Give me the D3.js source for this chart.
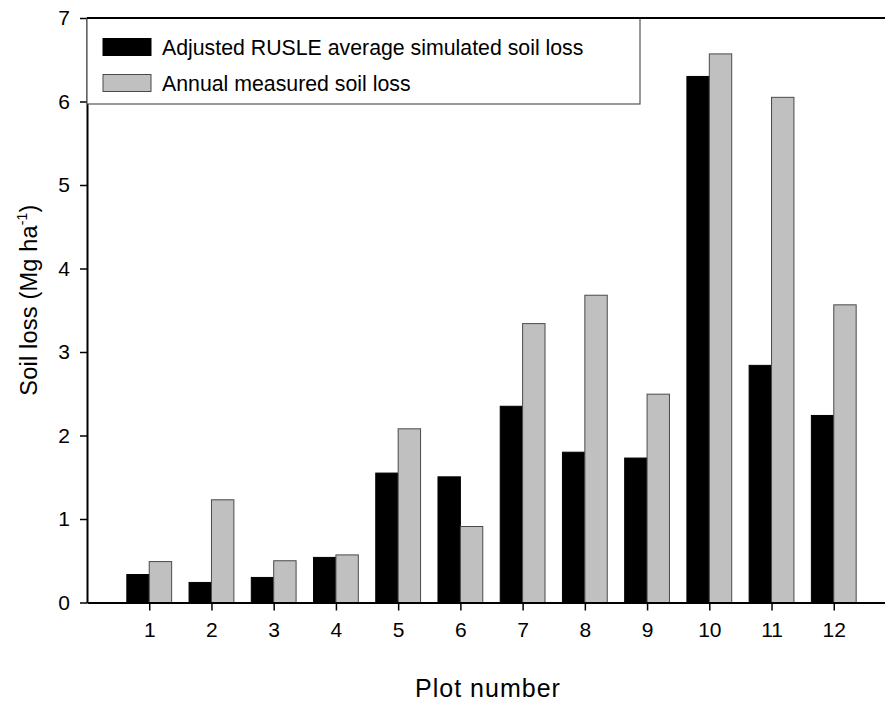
<!DOCTYPE html>
<html>
<head>
<meta charset="utf-8">
<script src="https://cdn.jsdelivr.net/npm/d3@7"></script>
<style>
  html, body { margin: 0; padding: 0; background: #fff; }
  svg { display: block; font-family: Arial, "Liberation Sans", sans-serif; }
</style>
</head>
<body>
<svg id="chart" width="885" height="702"></svg>
<script>
// Plot numbers and soil loss per plot (Mg ha-1)
const plots = [1, 2, 3, 4, 5, 6, 7, 8, 9, 10, 11, 12];
const simulated = [0.335, 0.24, 0.30, 0.54, 1.55, 1.505, 2.35, 1.80, 1.73, 6.30, 2.84, 2.24];
const measured = [0.49, 1.23, 0.50, 0.57, 2.08, 0.91, 3.34, 3.68, 2.495, 6.57, 6.05, 3.565];
const yTicks = [0, 1, 2, 3, 4, 5, 6, 7];
const seriesNames = ["Adjusted RUSLE average simulated soil loss", "Annual measured soil loss"];

(function () {
  const svg = d3.select("#chart");
  const plotLeft = 87, plotTop = 18, plotBottom = 602.5, plotRight = 896;

  const x = d3.scaleLinear().domain([0, 13]).range([plotLeft, plotRight]);
  const y = d3.scaleLinear().domain([0, 7]).range([plotBottom, plotTop]);
  const bw = 0.36; // bar width in plot units

  // bars
  const g = svg.append("g");
  g.selectAll("rect.sim").data(plots).join("rect")
    .attr("class", "sim")
    .attr("x", (d) => x(d - bw))
    .attr("width", (d) => x(d) - x(d - bw))
    .attr("y", (d, i) => y(simulated[i]))
    .attr("height", (d, i) => plotBottom - y(simulated[i]))
    .attr("fill", "#000")
    .attr("stroke", "#000")
    .attr("stroke-width", 1);

  g.selectAll("rect.meas").data(plots).join("rect")
    .attr("class", "meas")
    .attr("x", (d) => x(d))
    .attr("width", (d) => x(d + bw) - x(d))
    .attr("y", (d, i) => y(measured[i]))
    .attr("height", (d, i) => plotBottom - y(measured[i]))
    .attr("fill", "#c0c0c0")
    .attr("stroke", "#4a4a4a")
    .attr("stroke-width", 1);

  // y axis
  const yAxis = svg.append("g")
    .attr("transform", `translate(${plotLeft},0)`)
    .call(d3.axisLeft(y).tickValues(yTicks).tickFormat(d3.format("d"))
      .tickSize(7).tickPadding(10).tickSizeOuter(0));
  yAxis.attr("font-size", 21).attr("font-family", "Arial, 'Liberation Sans', sans-serif");
  yAxis.select(".domain").attr("stroke", "#000").attr("stroke-width", 2);
  yAxis.selectAll(".tick line").attr("stroke", "#000").attr("stroke-width", 1.5);
  yAxis.selectAll(".tick text").attr("fill", "#000");

  // x axis
  const xAxis = svg.append("g")
    .attr("transform", `translate(0,${plotBottom})`)
    .call(d3.axisBottom(x).tickValues(plots).tickFormat(d3.format("d"))
      .tickSize(8).tickPadding(12).tickSizeOuter(0));
  xAxis.attr("font-size", 21).attr("font-family", "Arial, 'Liberation Sans', sans-serif");
  xAxis.select(".domain").attr("stroke", "#000").attr("stroke-width", 2);
  xAxis.selectAll(".tick line").attr("stroke", "#000").attr("stroke-width", 1.5);
  xAxis.selectAll(".tick text").attr("fill", "#000");

  // legend
  const lg = svg.append("g");
  lg.append("rect")
    .attr("x", plotLeft).attr("y", plotTop)
    .attr("width", 640 - plotLeft).attr("height", 104 - plotTop)
    .attr("fill", "#fff").attr("stroke", "#555").attr("stroke-width", 1.2);
  const swatchFill = ["#000", "#c0c0c0"];
  const swatchStroke = ["#000", "#4a4a4a"];
  seriesNames.forEach((name, i) => {
    const cy = 47 + i * 36;
    lg.append("rect")
      .attr("x", 103).attr("y", cy - 8.5)
      .attr("width", 48).attr("height", 17)
      .attr("fill", swatchFill[i]).attr("stroke", swatchStroke[i]).attr("stroke-width", 1);
    lg.append("text")
      .attr("x", 162).attr("y", cy + 7.5)
      .attr("font-size", 21.3).attr("fill", "#000")
      .text(name);
  });

  // top frame line
  svg.append("line")
    .attr("x1", plotLeft).attr("x2", plotRight)
    .attr("y1", plotTop).attr("y2", plotTop)
    .attr("stroke", "#000").attr("stroke-width", 2);

  // axis titles
  svg.append("text")
    .attr("x", 488).attr("y", 697)
    .attr("text-anchor", "middle")
    .attr("font-size", 25).attr("letter-spacing", 1).attr("fill", "#000")
    .text("Plot number");

  const yt = svg.append("text")
    .attr("transform", "translate(37,300) rotate(-90)")
    .attr("text-anchor", "middle")
    .attr("font-size", 23.5).attr("letter-spacing", 0.2).attr("fill", "#000");
  yt.append("tspan").text("Soil loss (Mg ha");
  yt.append("tspan").attr("font-size", 14).attr("dy", -10).text("-1");
  yt.append("tspan").attr("dy", 10).text(")");
})();
</script>
</body>
</html>
